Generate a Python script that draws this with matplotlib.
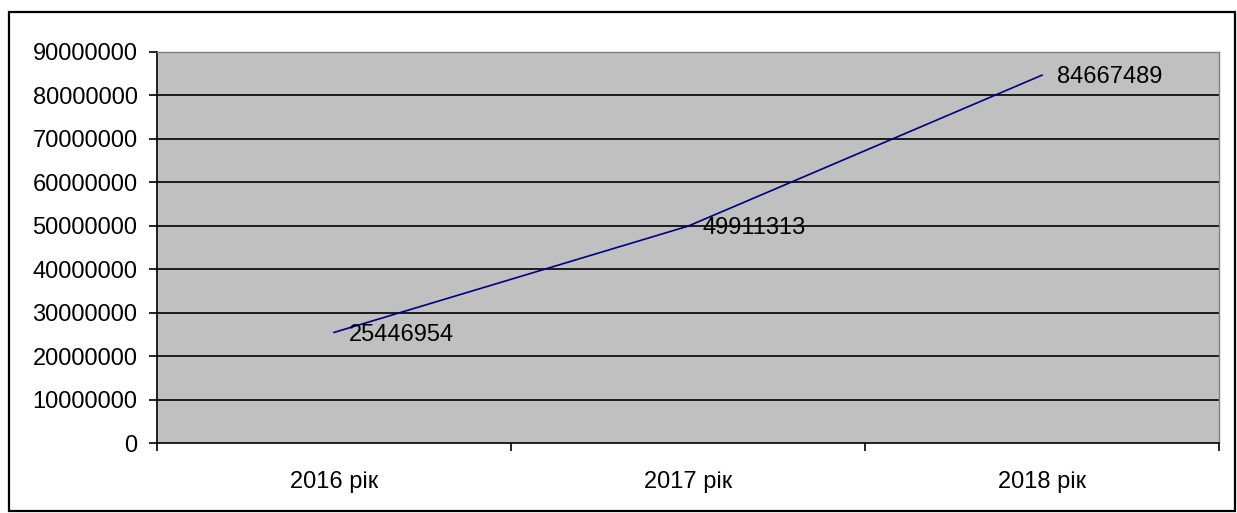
import matplotlib
matplotlib.use("Agg")
import matplotlib.pyplot as plt
from matplotlib.patches import Rectangle

plt.rcParams['font.family'] = ['Liberation Sans', 'DejaVu Sans']

years = ['2016 рік', '2017 рік', '2018 рік']
values = [25446954, 49911313, 84667489]
y_ticks = list(range(0, 90000001, 10000000))

fs = 17

fig = plt.figure(figsize=(12.37, 5.13), dpi=100)
ax = fig.add_axes([157 / 1237, 1 - 443 / 513, (1219 - 157) / 1237, (443 - 52) / 513])
ax.set_facecolor('#c0c0c0')

# frame around the whole chart
fig.patches.append(Rectangle((9 / 1237, 1 - 511 / 513), (1235 - 9) / 1237, (511 - 12) / 513,
                             transform=fig.transFigure, fill=False, edgecolor='black', linewidth=1.6))

xs = [i + 0.5 for i in range(len(years))]
ax.plot(xs, values, color='#000080', linewidth=1.2, zorder=3)
for x, v in zip(xs, values):
    ax.annotate(str(v), (x, v), xytext=(10.5, -1.5), textcoords='offset points',
                ha='left', va='center', fontsize=fs, color='black', zorder=4)

ax.set_ylim(0, 90000000)
ax.set_yticks(y_ticks)
ax.set_yticklabels([str(t) for t in y_ticks])
for t in y_ticks[1:-1]:
    ax.axhline(t, color='black', linewidth=1.2, zorder=1)

ax.set_xlim(0, len(years))
ax.set_xticks(range(len(years) + 1))
ax.set_xticklabels([])
ax.set_xticks(xs, minor=True)
ax.set_xticklabels(years, minor=True)
ax.tick_params(axis='x', which='major', direction='out', length=6, width=1.2)
ax.tick_params(axis='x', which='minor', length=0, pad=20, labelsize=fs)
ax.tick_params(axis='y', direction='out', length=6, width=1.2, pad=8, labelsize=fs)

ax.spines['left'].set_linewidth(1.2)
ax.spines['bottom'].set_linewidth(1.2)
ax.spines['top'].set_color('#808080')
ax.spines['right'].set_color('#808080')
ax.spines['top'].set_linewidth(1.0)
ax.spines['right'].set_linewidth(1.0)

fig.savefig('out.png', dpi=100)
